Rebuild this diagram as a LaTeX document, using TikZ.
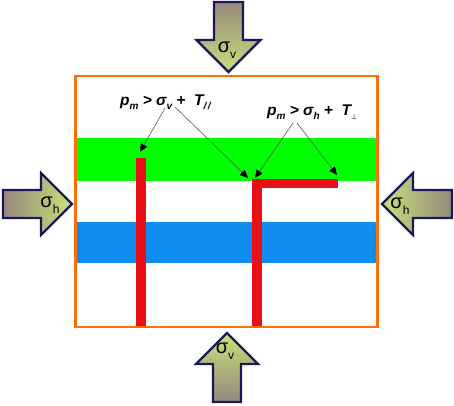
\documentclass[tikz,border=0pt]{standalone}
\usepackage{fontspec}
\setmainfont{Liberation Sans}
\newfontfamily\symfont{DejaVu Sans}
\usetikzlibrary{arrows.meta}
\definecolor{frameorange}{RGB}{255,110,10}
\definecolor{bandgreen}{RGB}{0,255,0}
\definecolor{bandblue}{RGB}{15,140,240}
\definecolor{barred}{RGB}{232,16,20}
\definecolor{arrnavy}{RGB}{25,25,90}
\definecolor{tailcol}{RGB}{150,135,125}
\definecolor{headcol}{RGB}{200,225,120}
\newcommand\lsub[1]{\raisebox{-0.5ex}{\fontsize{10}{10}\selectfont #1}}
\newcommand\ssub[1]{\raisebox{-0.55ex}{\fontsize{12}{12}\selectfont #1}}
\begin{document}
\begin{tikzpicture}[x=1pt,y=-1pt,
  bigarrow/.style={draw=arrnavy,line width=2.2pt,line join=miter},
  lab/.style={font=\fontsize{15.5}{15.5}\selectfont\bfseries\itshape,inner sep=0pt,anchor=base west},
  sig/.style={font=\fontsize{20}{20}\selectfont,inner sep=0pt},
  ann/.style={draw=black!65,line width=0.6pt,-{Triangle[length=8pt,width=7pt,color=black]}}
]
\useasboundingbox (0,0) rectangle (454,405);
\fill[white] (0,0) rectangle (454,405);
% bands
\fill[bandgreen] (76,138) rectangle (377,180.5);
\fill[bandblue] (76,222) rectangle (377,263);
% frame
\draw[frameorange,line width=2.5pt] (75.5,76) rectangle (377.5,327);
% red fractures
\fill[barred] (136,157.5) rectangle (146,326);
\fill[barred] (252,179) rectangle (262,326);
\fill[barred] (252,179) rectangle (338,188);
% big arrows
\shadedraw[bigarrow,top color=tailcol,bottom color=headcol]
  (214,2) -- (243,2) -- (243,40) -- (260.5,40) -- (228.5,72) -- (196.5,40) -- (214,40) -- cycle;
\shadedraw[bigarrow,top color=headcol,bottom color=tailcol]
  (213,402) -- (241,402) -- (241,364) -- (258,364) -- (227,333) -- (196,364) -- (213,364) -- cycle;
\shadedraw[bigarrow,left color=tailcol,right color=headcol]
  (3,190) -- (41,190) -- (41,173) -- (72,204) -- (41,235) -- (41,218) -- (3,218) -- cycle;
\shadedraw[bigarrow,left color=headcol,right color=tailcol]
  (452,190) -- (413,190) -- (413,173) -- (382,204) -- (413,235) -- (413,218) -- (452,218) -- cycle;
\node[sig] (svt) at (227,50) {σ\ssub{v}};
\node[sig] (svb) at (225,351) {σ\ssub{v}};
\node[sig] (shl) at (50,205) {σ\ssub{h}};
\node[sig] (shr) at (400,206) {σ\ssub{h}};
% labels
\node[lab] (L1) at (120,105) {p\lsub{m} > σ\lsub{v} +\ \ T\lsub{/\,/}};
\node[lab] (L2) at (267,115) {p\lsub{m} > σ\lsub{h} +\ \ T\lsub{\symfont\upshape\mdseries\fontsize{7}{7}\selectfont ⊥}};
\coordinate (s1) at (165,108);
\coordinate (s2) at (175,107);
\coordinate (s3) at (293,123);
\coordinate (s4) at (297,123);
\coordinate (t1) at (140,152);
\coordinate (t2) at (248,178);
\coordinate (t3) at (255,178);
\coordinate (t4) at (337,175);
\draw[ann] (s1) -- (t1);
\draw[ann] (s2) -- (t2);
\draw[ann] (s3) -- (t3);
\draw[ann] (s4) -- (t4);
\end{tikzpicture}
\end{document}
